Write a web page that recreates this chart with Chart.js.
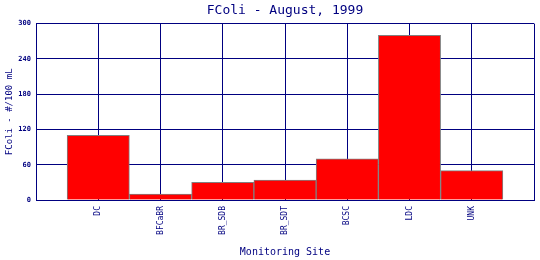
<!DOCTYPE html>
<html>
<head>
<meta charset="utf-8">
<script src="https://cdn.jsdelivr.net/npm/chart.js@4"></script>
<style>
  html, body { margin: 0; padding: 0; background: #ffffff; }
  #wrap { width: 540px; height: 260px; }
</style>
</head>
<body>
<div id="wrap"><canvas id="fcoliChart" width="540" height="260"></canvas></div>
<script>
// ── Data ─────────────────────────────────────────────────────
const sites  = ["DC", "BFCaBR", "BR_SDB", "BR_SDT", "BCSC", "LDC", "UNK"];
const fcoli  = [110, 10, 30, 34, 70, 280, 50];
const yTicks = [0, 60, 120, 180, 240, 300];

const NAVY = "#000080";
const MONO = "'DejaVu Sans Mono', 'Liberation Mono', monospace";

// sites sit at x = 1..7 on a 0..8 axis, one full slot per bar
const points = sites.map((s, i) => ({ x: i + 1, y: fcoli[i] }));

new Chart(document.getElementById("fcoliChart").getContext("2d"), {
  type: "bar",
  data: {
    datasets: [{
      label: "FColi",
      data: points,
      backgroundColor: "#ff0000",
      borderColor: "#808080",
      borderWidth: 1,
      barPercentage: 1,
      categoryPercentage: 1,
    }],
  },
  options: {
    responsive: false,
    animation: false,
    layout: { padding: { left: 0, right: 6, top: 0, bottom: 0 } },
    plugins: {
      legend: { display: false },
      tooltip: { enabled: false },
      title: {
        display: true,
        text: "FColi - August, 1999",
        color: NAVY,
        fullSize: false,
        font: { family: MONO, size: 13, weight: "normal" },
        padding: { top: 3, bottom: 5 },
      },
    },
    scales: {
      x: {
        type: "linear",
        min: 0,
        max: 8,
        offset: false,
        afterFit: (scale) => {
          scale.height = 60;
          scale.paddingLeft = 0;
          scale.paddingRight = 0;
        },
        afterBuildTicks: (scale) => {
          scale.ticks = [0, 1, 2, 3, 4, 5, 6, 7, 8].map(v => ({ value: v }));
        },
        grid: { color: NAVY, lineWidth: 1, drawTicks: false, offset: false },
        border: { color: NAVY },
        ticks: {
          autoSkip: false,
          minRotation: 90,
          maxRotation: 90,
          padding: 6,
          color: NAVY,
          font: { family: MONO, size: 8 },
          callback: (v) => sites[v - 1] || "",
        },
        title: {
          display: true,
          text: "Monitoring Site",
          color: NAVY,
          font: { family: MONO, size: 10 },
          padding: { top: 0, bottom: 2 },
        },
      },
      y: {
        min: 0,
        max: 300,
        afterFit: (scale) => { scale.width = 36; },
        afterBuildTicks: (scale) => {
          scale.ticks = yTicks.map(v => ({ value: v }));
        },
        grid: { color: NAVY, lineWidth: 1, drawTicks: false },
        border: { color: NAVY },
        ticks: {
          padding: 5,
          color: NAVY,
          font: { family: MONO, size: 7, weight: "bold" },
        },
        title: {
          display: true,
          text: "FColi - #/100 mL",
          color: NAVY,
          font: { family: MONO, size: 9 },
          padding: { top: 4, bottom: 0 },
        },
      },
    },
  },
});
</script>
</body>
</html>
